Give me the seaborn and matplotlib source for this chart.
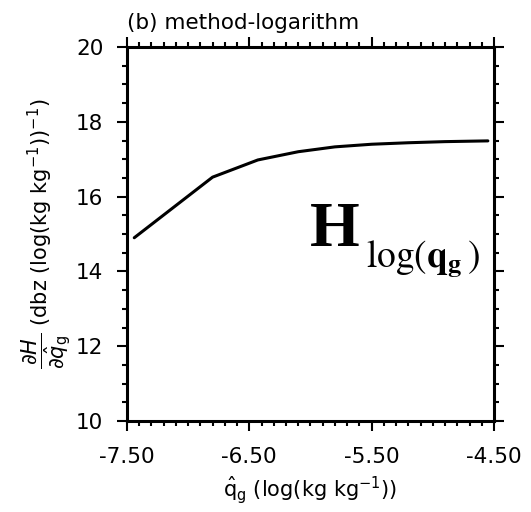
import numpy as np
import pandas as pd
import matplotlib
matplotlib.use("Agg")
import matplotlib.pyplot as plt
from matplotlib.ticker import MultipleLocator, FormatStrFormatter
import seaborn as sns

# data
q_hat = [-7.44, -6.80, -6.43, -6.10, -5.80, -5.50, -5.20, -4.90, -4.55]
dH_dq = [14.90, 16.52, 16.98, 17.20, 17.33, 17.40, 17.44, 17.47, 17.49]
x_ticks = [-7.50, -6.50, -5.50, -4.50]
y_ticks = [10, 12, 14, 16, 18, 20]

sns.set_style("white")
plt.rcParams['font.family'] = ['DejaVu Sans']
plt.rcParams['mathtext.fontset'] = 'dejavusans'
plt.rcParams['axes.unicode_minus'] = False
plt.rcParams['text.color'] = 'black'
plt.rcParams['axes.labelcolor'] = 'black'
plt.rcParams['xtick.color'] = 'black'
plt.rcParams['ytick.color'] = 'black'

df = pd.DataFrame({"q": q_hat, "d": dH_dq})

fig = plt.figure(figsize=(5.31, 5.12), dpi=100)
ax = fig.add_axes([0.239, 0.1777, 0.6913, 0.7305])
sns.lineplot(data=df, x="q", y="d", ax=ax, color="black", linewidth=2.2)

ax.set_xlim(-7.5, -4.5)
ax.set_ylim(10, 20)
ax.set_xticks(x_ticks)
ax.set_yticks(y_ticks)
ax.xaxis.set_major_formatter(FormatStrFormatter('%.2f'))
ax.xaxis.set_minor_locator(MultipleLocator(0.1))
ax.yaxis.set_minor_locator(MultipleLocator(0.5))
ax.tick_params(which='both', direction='out', top=True, right=True, bottom=True, left=True,
               labeltop=False, labelright=False, color='black', labelcolor='black', width=1.5)
ax.tick_params(which='major', length=7, labelsize=15.5)
ax.tick_params(axis='x', which='major', pad=12)
ax.tick_params(axis='y', which='major', pad=10)
ax.tick_params(which='minor', length=3.5)
for s in ax.spines.values():
    s.set_visible(True)
    s.set_linewidth(2.2)
    s.set_color('black')

ax.set_xlabel(r"$\hat{\mathrm{q}}_\mathrm{g}$ (log(kg kg$^{-1}$))", fontsize=15, labelpad=5,
              color='black')
ax.set_ylabel(r"$\dfrac{\partial H}{\partial \hat{q}_\mathrm{g}}$ (dbz (log(kg kg$^{-1}$))$^{-1}$)",
              fontsize=15, labelpad=2, color='black')
ax.set_title("(b) method-logarithm", loc='left', fontsize=15.5, pad=13, color='black')

fig.text(0.584, 0.52, "H", fontsize=46, fontweight='bold', family='Liberation Serif',
         ha='left', va='baseline', color='black')
fig.text(0.69, 0.478, r"$\mathrm{log(}\mathbf{q}_{\mathbf{g}}\mathrm{\,)}$", fontsize=27,
         math_fontfamily='stix', ha='left', va='baseline', color='black')

fig.savefig("out.png", dpi=100)
